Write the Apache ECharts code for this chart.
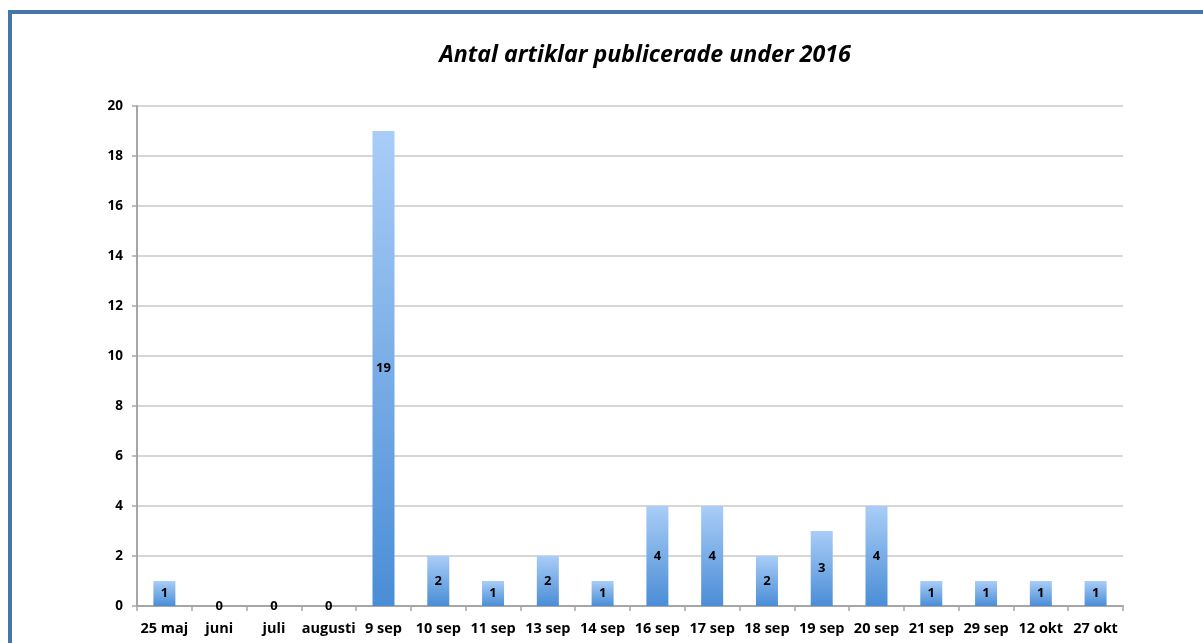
<!DOCTYPE html>
<html>
<head>
<meta charset="utf-8">
<script src="https://cdn.jsdelivr.net/npm/echarts@6/dist/echarts.min.js"></script>
<style>
html,body{margin:0;padding:0;background:#fff;overflow:hidden;}
#frame{position:absolute;left:8px;top:10px;width:1300px;height:800px;border:4px solid #4775A6;box-sizing:border-box;}
#chart{position:absolute;left:0;top:0;width:1203px;height:643px;}
</style>
</head>
<body>
<div id="frame"></div>
<div id="chart"></div>
<script>
const titleText = 'Antal artiklar publicerade under 2016';
const categories = ['25 maj','juni','juli','augusti','9 sep','10 sep','11 sep','13 sep','14 sep','16 sep','17 sep','18 sep','19 sep','20 sep','21 sep','29 sep','12 okt','27 okt'];
const values = [1,0,0,0,19,2,1,2,1,4,4,2,3,4,1,1,1,1];

const chart = echarts.init(document.getElementById('chart'));
const font = '"Open Sans", "Liberation Sans", sans-serif';
chart.setOption({
  animation:false,
  title:{text:titleText,left:640,textAlign:'center',top:39,
    textStyle:{fontFamily:font,fontSize:23.2,fontWeight:'bold',fontStyle:'italic',color:'#000'}},
  grid:{left:137,right:80,top:106,bottom:37},
  xAxis:{type:'category',data:categories,
    axisLine:{lineStyle:{color:'#a6a6a6',width:2}},
    axisTick:{show:true,length:5,lineStyle:{color:'#a6a6a6',width:1.5}},
    axisLabel:{fontFamily:font,fontSize:14.5,fontWeight:'bold',color:'#000',margin:15,interval:0}},
  yAxis:{type:'value',min:0,max:20,interval:2,
    axisLine:{show:true,lineStyle:{color:'#a6a6a6',width:2}},
    axisTick:{show:true,length:5,lineStyle:{color:'#a6a6a6',width:1.5}},
    splitLine:{lineStyle:{color:'#c8c8c8',width:1.5}},
    axisLabel:{fontFamily:font,fontSize:13.5,fontWeight:'bold',color:'#000',margin:14}},
  series:[{type:'bar',data:values,barWidth:22,
    itemStyle:{color:new echarts.graphic.LinearGradient(0,0,0,1,[{offset:0,color:'#a9cdf7'},{offset:1,color:'#4a8dd6'}])},
    label:{show:true,position:'inside',fontFamily:font,fontSize:13,fontWeight:'bold',color:'#000',
      formatter:p=>String(p.value)}}]
});
</script>
</body>
</html>
